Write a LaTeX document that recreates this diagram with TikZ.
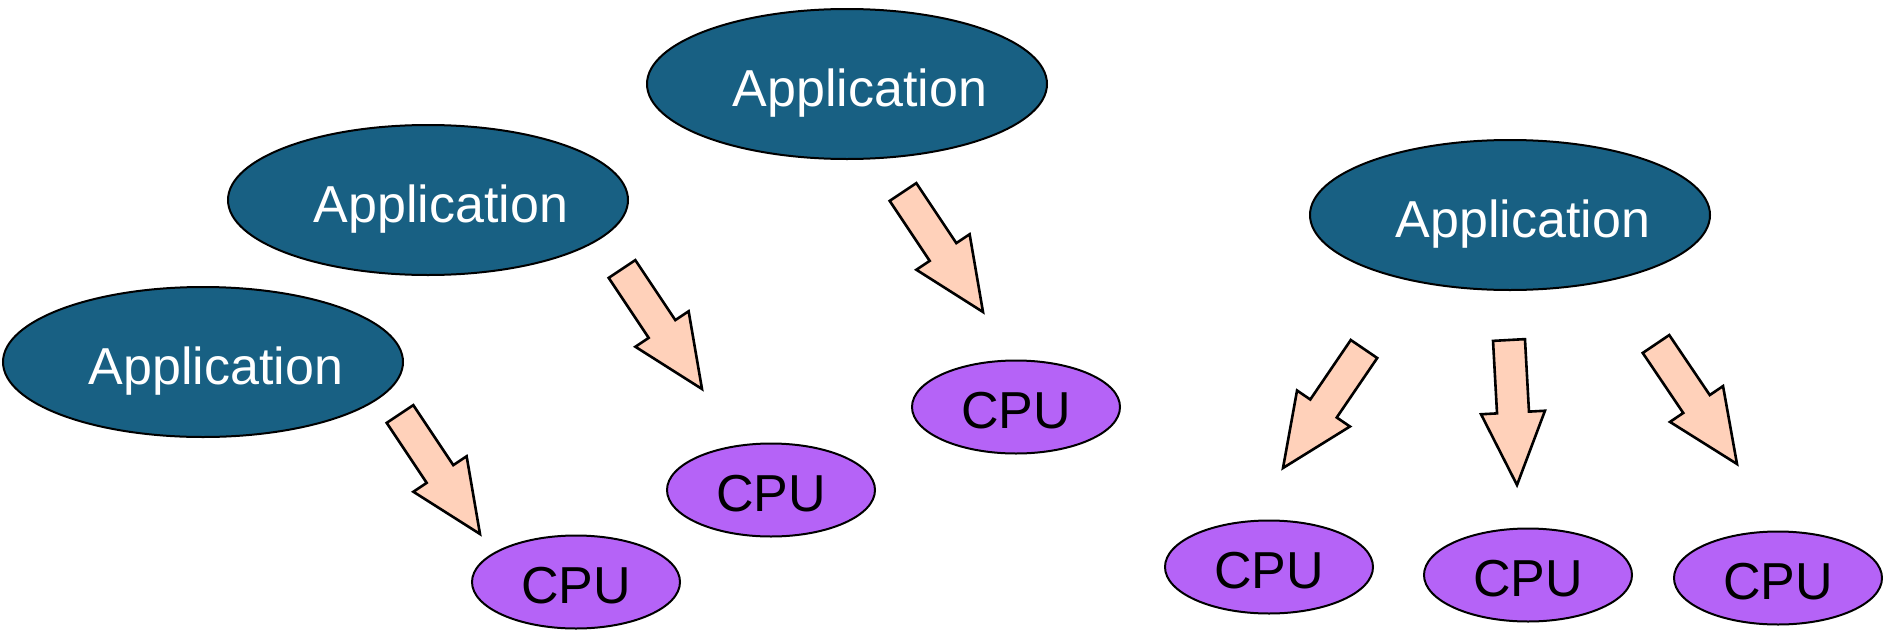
\documentclass[tikz,border=0pt]{standalone}
\usepackage{fontspec}
\setmainfont{Liberation Sans}
\usetikzlibrary{shapes.geometric,calc}
\definecolor{appblue}{RGB}{24,96,131}
\definecolor{cpuviolet}{RGB}{181,99,247}
\definecolor{peach}{RGB}{255,209,186}
\tikzset{
  app/.style={ellipse, draw=black, line width=2pt, fill=appblue,
    minimum width=400pt, minimum height=150pt, inner sep=0pt},
  cpu/.style={ellipse, draw=black, line width=2pt, fill=cpuviolet,
    minimum width=208pt, minimum height=93pt, inner sep=0pt},
  apptext/.style={anchor=base, text=white, inner sep=0pt,
    font=\fontsize{52}{60}\selectfont},
  cputext/.style={anchor=base, text=black, inner sep=0pt,
    font=\fontsize{52}{60}\selectfont},
  % block arrow from its tail centre to its tip: shaft and head each half the length
  blockarrow/.style={draw=black, line width=2.6pt, fill=peach, line join=miter,
    to path={
      ($(\tikztostart)!16pt!90:(\tikztotarget)$)
      -- ($($(\tikztostart)!0.5!(\tikztotarget)$)!16pt!90:(\tikztotarget)$)
      -- ($($(\tikztostart)!0.5!(\tikztotarget)$)!32pt!90:(\tikztotarget)$)
      -- (\tikztotarget)
      -- ($($(\tikztostart)!0.5!(\tikztotarget)$)!32pt!-90:(\tikztotarget)$)
      -- ($($(\tikztostart)!0.5!(\tikztotarget)$)!16pt!-90:(\tikztotarget)$)
      -- ($(\tikztostart)!16pt!-90:(\tikztotarget)$)
      -- cycle}}
}
\begin{document}
\begin{tikzpicture}[x=1pt,y=-1pt]
  \useasboundingbox (0,0) rectangle (1883,635);

  % applications
  \node[app] (app1) at (847,84)  {};
  \node[app] (app2) at (428,200) {};
  \node[app] (app3) at (203,362) {};
  \node[app] (app4) at (1510,215) {};
  \node[apptext] (app1t) at ($(app1.center)+(13,22)$) {Application};
  \node[apptext] (app2t) at ($(app2.center)+(13,22)$) {Application};
  \node[apptext] (app3t) at ($(app3.center)+(13,22)$) {Application};
  \node[apptext] (app4t) at ($(app4.center)+(13,22)$) {Application};

  % processors
  \node[cpu] (cpu1) at (576,582)  {};
  \node[cpu] (cpu2) at (771,490)  {};
  \node[cpu] (cpu3) at (1016,407) {};
  \node[cpu] (cpu4) at (1269,567) {};
  \node[cpu] (cpu5) at (1528,575) {};
  \node[cpu] (cpu6) at (1778,578) {};
  \foreach \c in {cpu1,cpu2,cpu3,cpu4,cpu5,cpu6}
    \node[cputext] (\c t) at ($(\c.center)+(0,21)$) {CPU};

  % arrow ends
  \coordinate (t1) at (400,414);   \coordinate (h1) at (480,534);
  \coordinate (t2) at (622,269);   \coordinate (h2) at (702,389);
  \coordinate (t3) at (903,192);   \coordinate (h3) at (983,312);
  \coordinate (t4) at (1364,349);  \coordinate (h4) at (1283,468);
  \coordinate (t5) at (1509,340);  \coordinate (h5) at (1517,485);
  \coordinate (t6) at (1656,344);  \coordinate (h6) at (1737,464);

  \foreach \i in {1,...,6}
    \draw[blockarrow] (t\i) to (h\i);
\end{tikzpicture}
\end{document}
